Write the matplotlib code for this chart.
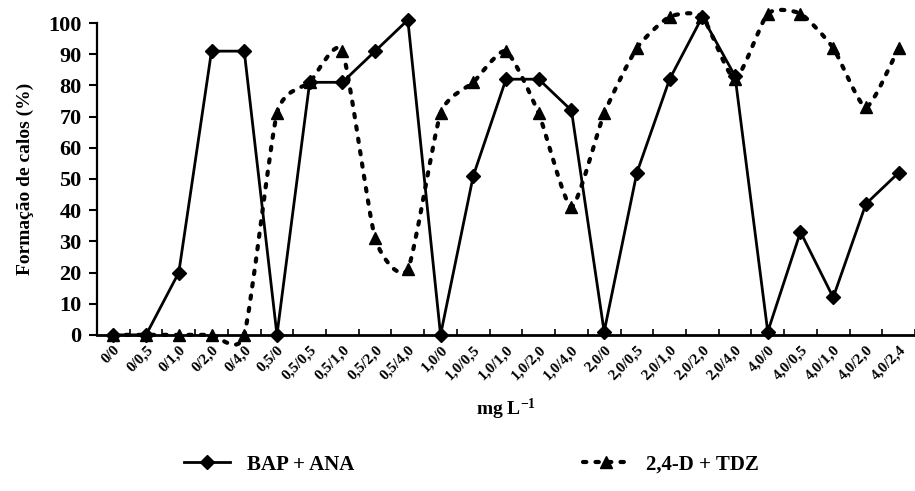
import numpy as np
import matplotlib
matplotlib.use("Agg")
import matplotlib.pyplot as plt
from matplotlib.path import Path
from matplotlib.patches import PathPatch
from matplotlib.lines import Line2D

# Dados
rotulos = ['0/0', '0/0,5', '0/1,0', '0/2,0', '0/4,0',
           '0,5/0', '0,5/0,5', '0,5/1,0', '0,5/2,0', '0,5/4,0',
           '1,0/0', '1,0/0,5', '1,0/1,0', '1,0/2,0', '1,0/4,0',
           '2,0/0', '2,0/0,5', '2,0/1,0', '2,0/2,0', '2,0/4,0',
           '4,0/0', '4,0/0,5', '4,0/1,0', '4,0/2,0', '4,0/2,4']
bap_ana = [0, 0, 20, 91, 91, 0, 81, 81, 91, 101,
           0, 51, 82, 82, 72, 1, 52, 82, 102, 83,
           1, 33, 12, 42, 52]
d24_tdz = [0, 0, 0, 0, 0, 71, 81, 91, 31, 21,
           71, 81, 91, 71, 41, 71, 92, 102, 102, 82,
           103, 103, 92, 73, 92]

plt.rcParams['font.family'] = 'Liberation Serif'
plt.rcParams['font.weight'] = 'bold'
plt.rcParams['mathtext.fontset'] = 'custom'
plt.rcParams['mathtext.rm'] = 'Liberation Serif:bold'
plt.rcParams['mathtext.default'] = 'rm'


def curva_suave(x, y, k=10.0):
    # linha suavizada (estilo Excel) feita com curvas de Bezier
    pts = np.column_stack([np.asarray(x, float), np.asarray(y, float)])
    verts = [pts[0]]
    codes = [Path.MOVETO]
    n = len(pts)
    for i in range(n - 1):
        p0 = pts[max(i - 1, 0)]
        p1 = pts[i]
        p2 = pts[i + 1]
        p3 = pts[min(i + 2, n - 1)]
        verts += [p1 + (p2 - p0) / k, p2 - (p3 - p1) / k, p2]
        codes += [Path.CURVE4] * 3
    return Path(verts, codes)


fig = plt.figure(figsize=(9.15, 4.91), dpi=100)
ax = fig.add_axes([0.106, 0.318, 0.894, 0.635])

x = np.arange(len(rotulos))
pontilhado = (0, (0.8, 2.2))

patch = PathPatch(curva_suave(x, d24_tdz), fill=False, edgecolor='black',
                  linewidth=3, linestyle=pontilhado, capstyle='round',
                  clip_on=False, zorder=2)
ax.add_patch(patch)
ax.plot(x, d24_tdz, linestyle='none', marker='^', markersize=9,
        color='black', clip_on=False, zorder=3)
ax.plot(x, bap_ana, '-', marker='D', markersize=7, color='black',
        linewidth=2, clip_on=False, zorder=4)

ax.set_xlim(-0.5, len(rotulos) - 0.5)
ax.set_ylim(0, 100)
ax.set_yticks(range(0, 101, 10))
ax.set_xticks(x)
ax.set_xticklabels(rotulos, rotation=45, ha='right', rotation_mode='anchor',
                   fontsize=11, fontweight='bold')
ax.set_xticks(np.arange(-0.5, len(rotulos), 1), minor=True)
ax.tick_params(axis='x', which='major', length=0, pad=6)
ax.tick_params(axis='x', which='minor', length=4, width=1.2, direction='in')
ax.tick_params(axis='y', length=6, width=1.5, labelsize=16, pad=5)
for lab in ax.get_yticklabels():
    lab.set_fontweight('bold')

for s in ['top', 'right']:
    ax.spines[s].set_visible(False)
ax.spines['left'].set_linewidth(1.6)
ax.spines['bottom'].set_linewidth(2)

ax.set_ylabel('Formação de calos (%)', fontsize=14, fontweight='bold', labelpad=10)
ax.set_xlabel('mg L$^{-1}$', fontsize=14, fontweight='bold', labelpad=10)

h1 = Line2D([], [], color='black', linewidth=2, marker='D', markersize=7)
h2 = Line2D([], [], color='black', linewidth=3, linestyle=pontilhado,
            dash_capstyle='round', marker='^', markersize=9)
fig.legend([h1, h2], ['BAP + ANA', '2,4-D + TDZ'], loc='lower center',
           bbox_to_anchor=(0.515, -0.005), ncol=2, frameon=False,
           prop={'family': 'Liberation Serif', 'weight': 'bold', 'size': 15},
           columnspacing=11, handlelength=2.2)

fig.savefig('out.png', dpi=100)
